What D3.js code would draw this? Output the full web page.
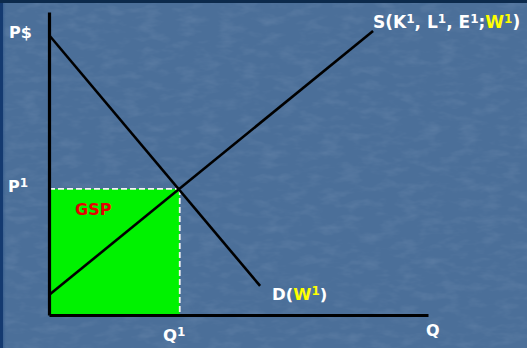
<!DOCTYPE html>
<html>
<head>
<meta charset="utf-8">
<script src="https://cdn.jsdelivr.net/npm/d3@7"></script>
<style>
  html, body { margin: 0; padding: 0; background: #4b6f99; }
  svg { display: block; }
  text { font-family: "DejaVu Sans", Verdana, sans-serif; font-weight: bold; }
</style>
</head>
<body>
<script>
// Market for a state's output: supply and demand, with gross state product (P1 x Q1)
const width = 527, height = 348;

// Curve endpoints in (quantity, price) units, 0-100 on each axis
const demandPoints = [[0, 92.4], [55.7, 9.6]];
const supplyPoints = [[0, 6.6], [85.5, 93.7]];
// Equilibrium quantity and price
const equilibrium = [34.5, 41.6];

// Axis and curve labels: [text, superscript, colour key] pieces
const priceLabel = [["P$", ""]];
const quantityLabel = [["Q", ""]];
const eqPriceLabel = [["P", "1"]];
const eqQuantityLabel = [["Q", "1"]];
const areaLabel = "GSP";
const demandLabel = [["D(", ""], ["W", "1", "y"], [")", ""]];
const supplyLabel = [["S(K", "1"], [", L", "1"], [", E", "1"], [";", ""], ["W", "1", "y"], [")", ""]];

const svg = d3.select("body").append("svg")
  .attr("width", width).attr("height", height);

// Slide background with texture
const defs = svg.append("defs");
const leftGrad = defs.append("linearGradient").attr("id", "edge").attr("x1", 0).attr("x2", 1);
leftGrad.append("stop").attr("offset", 0).attr("stop-color", "#17427f");
leftGrad.append("stop").attr("offset", 1).attr("stop-color", "#4b6f99").attr("stop-opacity", 0);

const tex = defs.append("filter").attr("id", "tex").attr("x", 0).attr("y", 0).attr("width", 1).attr("height", 1);
tex.append("feTurbulence").attr("type", "fractalNoise").attr("baseFrequency", "0.05 0.12").attr("numOctaves", 3).attr("seed", 4).attr("result", "n");
tex.append("feColorMatrix").attr("in", "n").attr("type", "matrix")
  .attr("values", "0 0 0 0 0.85  0 0 0 0 0.9  0 0 0 0 1  0 0 0 0.9 -0.4");
tex.append("feComposite").attr("in2", "SourceGraphic").attr("operator", "in");

svg.append("rect").attr("width", width).attr("height", height).attr("fill", "#4b6f99");
svg.append("rect").attr("width", width).attr("height", height).attr("fill", "#4b6f99").attr("filter", "url(#tex)").attr("opacity", 0.2);
svg.append("rect").attr("x", 0).attr("y", 0).attr("width", 7).attr("height", height).attr("fill", "url(#edge)");
svg.append("rect").attr("x", 0).attr("y", 0).attr("width", 3).attr("height", height).attr("fill", "#143a70");
svg.append("rect").attr("x", 0).attr("y", 0).attr("width", width).attr("height", 3).attr("fill", "#0c2a4c");

const x = d3.scaleLinear().domain([0, 100]).range([49, 428]);
const y = d3.scaleLinear().domain([0, 100]).range([315, 12]);

// GSP area
svg.append("rect")
  .attr("x", x(0)).attr("y", y(equilibrium[1]))
  .attr("width", x(equilibrium[0]) - x(0))
  .attr("height", y(0) - y(equilibrium[1]))
  .attr("fill", "#00f200");

// Dashed guides to the equilibrium
const dash = svg.append("g").attr("stroke", "#f4f4f4").attr("stroke-width", 1.8)
  .attr("stroke-dasharray", "6,3").attr("fill", "none");
dash.append("line").attr("x1", x(0)).attr("x2", x(equilibrium[0]))
  .attr("y1", y(equilibrium[1])).attr("y2", y(equilibrium[1]));
dash.append("line").attr("x1", x(equilibrium[0])).attr("x2", x(equilibrium[0]))
  .attr("y1", y(equilibrium[1])).attr("y2", y(0));

// Axes
const xAxis = d3.axisBottom(x).tickValues([]).tickSizeOuter(0);
const yAxis = d3.axisLeft(y).tickValues([]).tickSizeOuter(0);
svg.append("g").attr("transform", `translate(0,${y(0)})`).call(xAxis)
  .select(".domain").attr("stroke", "#000").attr("stroke-width", 3.2);
svg.append("g").attr("transform", `translate(${x(0)},0)`).call(yAxis)
  .select(".domain").attr("stroke", "#000").attr("stroke-width", 3.2);

// Curves
const line = d3.line().x(d => x(d[0])).y(d => y(d[1]));
svg.append("path").datum(demandPoints).attr("d", line)
  .attr("stroke", "#000").attr("stroke-width", 2.6).attr("fill", "none");
svg.append("path").datum(supplyPoints).attr("d", line)
  .attr("stroke", "#000").attr("stroke-width", 2.6).attr("fill", "none");

// Labels with raised superscript pieces
const colours = { w: "#ffffff", y: "#ffff00" };
function label(px, py, pieces, size) {
  const t = svg.append("text").attr("x", px).attr("y", py).attr("font-size", size).attr("fill", colours.w);
  const rise = Math.round(size * 0.3);
  let pending = 0;
  pieces.forEach(([main, sup, c]) => {
    const col = colours[c || "w"];
    t.append("tspan").attr("fill", col).attr("dy", pending).text(main);
    pending = 0;
    if (sup) {
      t.append("tspan").attr("fill", col).attr("font-size", Math.round(size * 0.72)).attr("dy", -rise).text(sup);
      pending = rise;
    }
  });
  return t;
}
label(9, 38, priceLabel, 16);
label(8, 192, eqPriceLabel, 16);
label(163, 341, eqQuantityLabel, 16.5);
label(426, 336, quantityLabel, 16);
svg.append("text").attr("x", 75).attr("y", 215).attr("font-size", 16).attr("fill", "#e60000").text(areaLabel);
label(272, 300, demandLabel, 16.5);
label(373, 28, supplyLabel, 17);
</script>
</body>
</html>
